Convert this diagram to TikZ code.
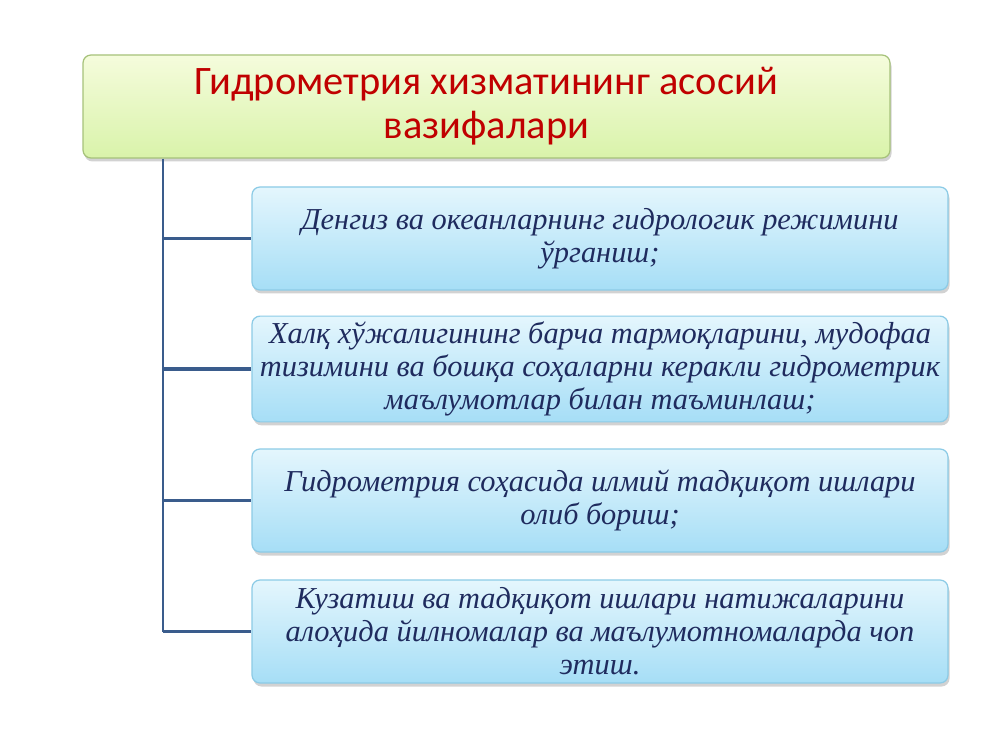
\documentclass[tikz,border=0pt]{standalone}
\usepackage{fontspec}
\setmainfont{Liberation Serif}
\newfontfamily\headfont{Carlito}
\usetikzlibrary{shadows}

\definecolor{headred}{HTML}{C00000}
\definecolor{headtop}{HTML}{F5FCDC}
\definecolor{headbottom}{HTML}{D9F3AA}
\definecolor{headline}{HTML}{A6C27A}
\definecolor{tasktop}{HTML}{E4F6FD}
\definecolor{taskbottom}{HTML}{A6DEF6}
\definecolor{taskline}{HTML}{8CCBE6}
\definecolor{taskink}{HTML}{1F2B5E}
\definecolor{branchblue}{HTML}{3A5C8C}

\tikzset{
  headbox/.style={draw=headline, line width=0.7pt, rounded corners=0.16cm,
    top color=headtop, bottom color=headbottom,
    minimum width=16.14cm, minimum height=2.06cm, align=center, text=headred,
    font=\headfont\fontsize{23}{25}\selectfont,
    drop shadow={shadow xshift=0.03cm, shadow yshift=-0.07cm, opacity=0.35}},
  taskbox/.style={draw=taskline, line width=0.7pt, rounded corners=0.16cm,
    top color=tasktop, bottom color=taskbottom,
    minimum width=13.92cm, minimum height=2.06cm, align=center, text=taskink,
    font=\itshape\fontsize{17.3}{18.7}\selectfont,
    drop shadow={shadow xshift=0.03cm, shadow yshift=-0.07cm, opacity=0.35}},
  trunkline/.style={draw=branchblue, line width=1.1pt},
  branch/.style={draw=branchblue, line width=1.9pt}
}

\begin{document}
\begin{tikzpicture}
  %%%%% START %%%%%
  \fill[white] (0, 0) rectangle (20, 15);
  \useasboundingbox (0, 0) rectangle (20, 15);

  \node[headbox] (title) at (9.73, 12.87) {Гидрометрия хизматининг асосий\\вазифалари};

  \node[taskbox] (task1) at (12, 10.23) {Денгиз ва океанларнинг гидрологик режимини\\ўрганиш;};
  \node[taskbox] (task2) at (12, 7.62) {Халқ хўжалигининг барча тармоқларини, мудофаа\\тизимини ва бошқа соҳаларни керакли гидрометрик\\маълумотлар билан таъминлаш;};
  \node[taskbox] (task3) at (12, 4.99) {Гидрометрия соҳасида илмий тадқиқот ишлари\\олиб бориш;};
  \node[taskbox] (task4) at (12, 2.37) {Кузатиш ва тадқиқот ишлари натижаларини\\алоҳида йилномалар ва маълумотномаларда чоп\\этиш.};

  \coordinate (trunk) at (3.26, 12.87);

  \draw[trunkline] (title.south -| trunk) -- (task4.west -| trunk);
  \foreach \k in {1,2,3,4}
    \draw[branch] (task\k.west -| trunk) -- (task\k.west);

  %%%%% END %%%%%
\end{tikzpicture}
\end{document}
